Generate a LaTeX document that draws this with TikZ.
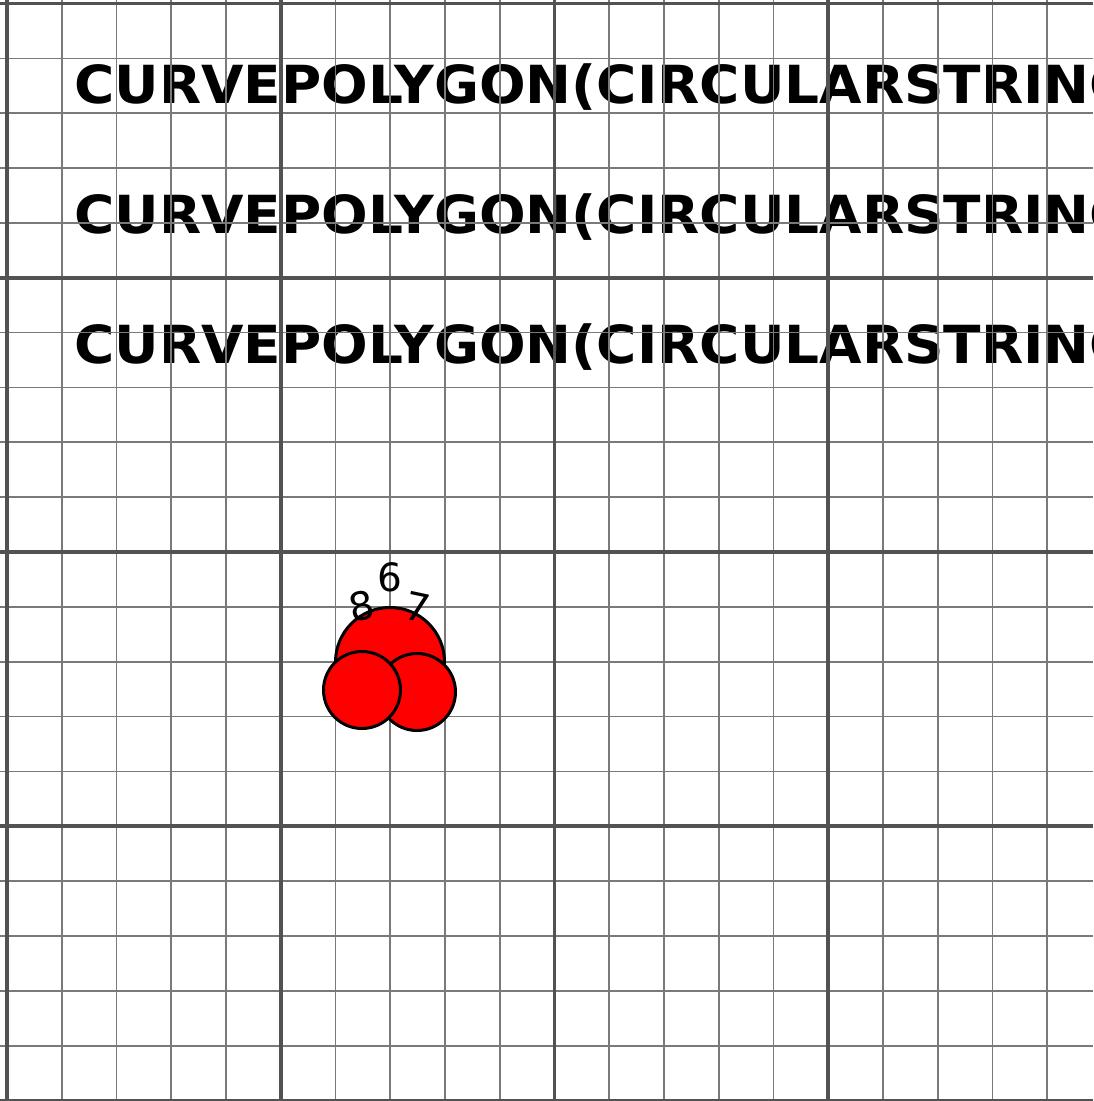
\documentclass[tikz,border=0pt]{standalone}
\usepackage{fontspec}
\newfontfamily\wktfont{DejaVu Sans}
\tikzset{
  thinline/.style={draw=black!52, line width=1.7pt},
  thickline/.style={draw=black!68, line width=3.6pt},
  wkt/.style={anchor=base west, inner sep=0pt, xscale=1.045, font=\wktfont\bfseries\fontsize{52.5}{60}\selectfont},
  blob/.style={fill=red, draw=black, line width=3pt},
  ptlabel/.style={inner sep=0pt, font=\wktfont\fontsize{39}{44}\selectfont, text=black}
}
\begin{document}
\begin{tikzpicture}[x=1pt,y=-1pt]
\useasboundingbox (0,0) rectangle (1093,1101);
\fill[white] (0,0) rectangle (1093,1101);
\clip (0,0) rectangle (1093,1101);
% texts
\node[wkt] (t1) at (74,103) {CURVEPOLYGON(CIRCULARSTRING};
\node[wkt] (t2) at (74,233) {CURVEPOLYGON(CIRCULARSTRING};
\node[wkt] (t3) at (74,363) {CURVEPOLYGON(CIRCULARSTRING};
% grid
\foreach \k in {0,...,20}{
  \pgfmathsetmacro{\gx}{7+54.75*\k}
  \pgfmathsetmacro{\gy}{3.5+54.85*\k}
  \draw[thinline] (\gx,0) -- (\gx,1101);
  \draw[thinline] (0,\gy) -- (1093,\gy);
}
\foreach \k in {0,5,10,15,20}{
  \pgfmathsetmacro{\gx}{7+54.75*\k}
  \pgfmathsetmacro{\gy}{3.5+54.85*\k}
  \draw[thickline] (\gx,0) -- (\gx,1101);
  \draw[thickline] (0,\gy) -- (1093,\gy);
}
% circles
\draw[blob] (390,662) circle[radius=54.5];
\draw[blob] (417,692) circle[radius=38.5];
\draw[blob] (362,690) circle[radius=38.5];
% point labels
\node[ptlabel] (l6) at (390,577) {6};
\node[ptlabel, rotate=12] (l8) at (362,606) {8};
\node[ptlabel, rotate=-12] (l7) at (418,607) {7};
\end{tikzpicture}
\end{document}
